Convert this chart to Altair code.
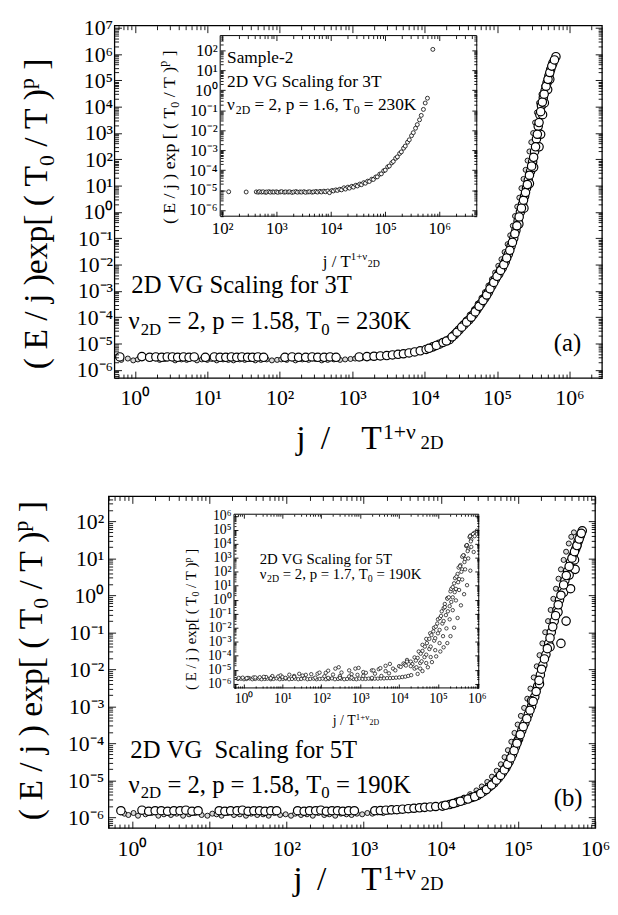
import altair as alt
import pandas as pd

W, H = 610, 897
OFF = 8
FONT = "Liberation Serif"

# ===================== data =====================
# ---- panel (a), main plot: large open circles ----
A_BIG_X = [0.62, 1.25, 1.6, 1.95, 2.35, 2.8, 3.3, 3.9, 4.7, 5.6, 6.6,
           9.4, 12.5, 15, 18, 21.5, 25.5, 30, 36, 42, 50, 60,
           118, 148, 182, 228, 280, 335, 410, 495, 600,
           1250, 1600, 2000, 2450, 3000, 3600, 4300, 5100, 6100, 7300, 8700,
           1.05e4, 1.3e4, 1.6e4, 2.2e4, 2.6e4, 3.0e4, 3.5e4, 4.1e4, 4.7e4, 5.3e4, 6.0e4, 6.8e4, 7.6e4, 8.5e4, 9.5e4,
           1.06e5, 1.18e5, 1.3e5, 1.43e5, 1.56e5, 1.7e5, 1.82e5, 1.95e5, 2.1e5, 2.25e5, 2.4e5, 2.55e5, 2.7e5,
           2.9e5, 3.1e5, 3.3e5, 3.5e5, 3.7e5, 3.9e5, 4.1e5, 4.35e5, 4.6e5, 4.9e5, 5.2e5, 5.5e5, 5.9e5, 6.5e5,
           4.0e5, 4.25e5, 4.5e5, 5.0e5, 5.35e5, 2.0e5, 2.35e5, 2.8e5, 3.2e5, 3.8e5,
           1.15e4, 1.45e4, 1.8e4, 2.0e4, 2.4e4, 2.8e4, 3.25e4, 3.8e4, 4.4e4, 5.0e4,
           5.65e4, 6.4e4, 7.2e4, 8.0e4, 9.0e4, 1.0e5, 1.12e5, 1.24e5, 1.36e5, 1.5e5,
           1.63e5, 1.76e5, 1.88e5, 2.02e5, 2.17e5, 2.32e5, 2.47e5, 2.62e5, 2.8e5, 3.0e5,
           3.2e5, 3.4e5, 3.6e5, 3.8e5, 4.0e5, 4.22e5, 4.47e5, 4.75e5, 5.05e5, 5.35e5, 5.7e5, 6.2e5]
A_BIG_Y = [3.1e-6, 3.2e-6, 3.0e-6, 3.1e-6, 3.0e-6, 3.1e-6, 3.1e-6, 3.0e-6, 3.1e-6, 3.0e-6, 3.1e-6,
           3.0e-6, 3.1e-6, 3.0e-6, 3.0e-6, 3.1e-6, 3.0e-6, 3.1e-6, 3.0e-6, 3.0e-6, 3.1e-6, 3.0e-6,
           3.0e-6, 3.1e-6, 3.0e-6, 3.0e-6, 3.1e-6, 3.0e-6, 3.0e-6, 3.1e-6, 3.0e-6,
           3.1e-6, 3.2e-6, 3.3e-6, 3.4e-6, 3.5e-6, 3.7e-6, 3.9e-6, 4.1e-6, 4.4e-6, 4.8e-6, 5.3e-6,
           6.0e-6, 7.5e-6, 9.5e-6, 1.4e-5, 2.2e-5, 3.3e-5, 5.2e-5, 8e-5, 1.25e-4, 2e-4, 3.3e-4, 5.5e-4, 9e-4, 1.6e-3, 2.8e-3,
           4.5e-3, 7.5e-3, 1.3e-2, 2.5e-2, 5e-2, 0.1, 0.2, 0.45, 1.0, 2.0, 4.0, 8.0, 16,
           35, 80, 200, 600, 1800, 5000, 1.1e4, 2.2e4, 4e4, 8e4, 1.5e5, 2.6e5, 4.5e5, 8e5,
           900, 5000, 1.4e4, 4.5e4, 1.1e5, 0.35, 1.4, 12, 50, 300,
           6.6e-6, 8.5e-6, 1.1e-5, 1.25e-5, 1.8e-5, 2.7e-5, 4.2e-5, 6.5e-5, 1.0e-4, 1.6e-4,
           2.6e-4, 4.3e-4, 7e-4, 1.2e-3, 2.1e-3, 3.6e-3, 6e-3, 1.0e-2, 1.8e-2, 3.5e-2,
           7e-2, 0.15, 0.3, 0.65, 1.4, 2.8, 5.5, 11, 25, 55,
           120, 300, 900, 2500, 6500, 1.5e4, 3e4, 6e4, 1.1e5, 2e5, 3.5e5, 6e5]
# ---- panel (a), main plot: small circles ----
A_SMALL_X = [0.65, 0.8, 0.95, 1.1, 2.2, 2.6, 3.6, 4.4, 5.2, 7.2, 8.4, 10, 11.5, 13.5, 16.5, 19.5, 23, 28, 33,
             39, 46, 55, 66, 78, 92, 105, 125, 165, 205, 250, 310, 380, 460, 560, 680, 800, 950, 1100, 1350,
             1800, 2250, 2700, 3300, 3900, 4600, 5500, 6500, 7700, 9000,
             1.05e4, 1.2e4, 1.45e4, 1.7e4, 2.0e4, 2.4e4, 2.8e4, 3.2e4, 3.7e4, 4.2e4, 4.8e4, 5.4e4, 6.1e4, 6.8e4,
             7.6e4, 8.5e4, 9.4e4, 1.04e5, 1.15e5, 1.27e5, 1.4e5, 1.52e5, 1.65e5, 1.77e5, 1.9e5, 2.03e5, 2.17e5,
             2.32e5, 2.48e5, 2.64e5, 2.8e5, 2.97e5, 3.15e5, 3.35e5, 3.55e5, 3.8e5, 4.1e5, 4.45e5, 4.85e5, 5.3e5, 5.8e5]
A_SMALL_Y = [2.4e-6, 2.7e-6, 2.3e-6, 2.5e-6, 2.4e-6, 2.6e-6, 2.3e-6, 2.5e-6, 2.4e-6, 2.3e-6,
             2.5e-6, 2.4e-6, 2.6e-6, 2.3e-6, 2.5e-6, 2.4e-6, 2.3e-6, 2.5e-6, 2.4e-6, 2.6e-6,
             2.3e-6, 2.4e-6, 2.5e-6, 2.3e-6, 2.4e-6, 2.5e-6, 2.4e-6, 2.3e-6, 2.5e-6, 2.4e-6,
             2.6e-6, 2.3e-6, 2.4e-6, 2.5e-6, 2.4e-6, 2.5e-6, 2.6e-6, 2.7e-6, 2.8e-6, 3.0e-6,
             3.1e-6, 3.3e-6, 3.5e-6, 3.7e-6, 4.0e-6, 4.3e-6, 4.7e-6, 5.1e-6, 5.7e-6,
             6.2e-6, 7.0e-6, 8.5e-6, 1.05e-5, 1.4e-5, 2.1e-5, 3.2e-5, 5e-5, 8e-5, 1.25e-4, 2e-4, 3.3e-4, 5.5e-4, 9e-4,
             1.6e-3, 2.8e-3, 5e-3, 9e-3, 1.6e-2, 3e-2, 6e-2, 0.13, 0.3, 0.7, 1.6, 3.5, 8,
             18, 40, 90, 200, 450, 1000, 2500, 6000, 1.4e4, 3e4, 6e4, 1.2e5, 2.2e5, 4e5]

# ---- panel (b), main plot: large open circles ----
B_BIG_X = [0.72, 1.35, 1.65, 2.0, 2.4, 2.9, 3.5, 4.2, 5.0, 6.0, 7.2,
           13.5, 16, 19, 23, 27, 32, 38, 45, 53, 63, 75,
           140, 170, 200, 240, 280, 330, 390, 460, 540, 640, 760,
           1400, 1650, 1950, 2300, 2700, 3200, 3800, 4500, 5300, 6200, 7300, 8600,
           1.05e4, 1.3e4, 1.6e4, 2.0e4, 2.5e4, 3.0e4, 3.6e4, 4.2e4, 4.9e4, 5.6e4,
           6.3e4, 7.0e4, 7.7e4, 8.5e4, 9.3e4, 1.02e5, 1.12e5, 1.23e5, 1.36e5, 1.5e5,
           1.65e5, 1.8e5, 1.95e5, 2.1e5, 2.3e5, 2.5e5, 2.7e5, 2.95e5, 3.2e5, 3.45e5,
           3.75e5, 4.05e5, 4.4e5, 4.8e5, 5.2e5, 5.6e5, 6.0e5, 6.4e5, 6.8e5,
           3.3e5, 3.9e5, 4.6e5, 5.4e5, 5.8e5, 2.6e5, 1.9e5, 9.8e4, 1.5e5, 4.2e5, 4.8e5, 3.6e5, 5.5e5,
           1.15e4, 1.45e4, 1.8e4, 2.25e4, 2.75e4, 3.3e4, 3.9e4, 4.55e4, 5.25e4, 5.95e4,
           6.65e4, 7.35e4, 8.1e4, 8.9e4, 9.7e4, 1.07e5, 1.17e5, 1.3e5, 1.43e5, 1.57e5,
           1.72e5, 1.87e5, 2.02e5, 2.2e5, 2.4e5, 2.6e5, 2.82e5, 3.07e5, 3.32e5, 3.6e5,
           3.9e5, 4.22e5, 4.6e5, 5.0e5, 5.4e5, 5.8e5, 6.2e5, 6.6e5]
B_BIG_Y = [1.5e-6, 1.55e-6, 1.45e-6, 1.5e-6, 1.5e-6, 1.45e-6, 1.5e-6, 1.5e-6, 1.55e-6, 1.45e-6, 1.5e-6,
           1.5e-6, 1.45e-6, 1.5e-6, 1.5e-6, 1.55e-6, 1.45e-6, 1.5e-6, 1.5e-6, 1.45e-6, 1.5e-6, 1.5e-6,
           1.5e-6, 1.45e-6, 1.5e-6, 1.5e-6, 1.55e-6, 1.45e-6, 1.5e-6, 1.5e-6, 1.45e-6, 1.5e-6, 1.5e-6,
           1.5e-6, 1.52e-6, 1.55e-6, 1.58e-6, 1.6e-6, 1.65e-6, 1.7e-6, 1.75e-6, 1.8e-6, 1.85e-6, 1.9e-6, 1.95e-6,
           2.0e-6, 2.2e-6, 2.5e-6, 2.9e-6, 3.4e-6, 3.9e-6, 5e-6, 6.5e-6, 8.5e-6, 1.15e-5,
           1.6e-5, 2.2e-5, 3.2e-5, 5e-5, 8e-5, 1.3e-4, 2.2e-4, 3.5e-4, 6e-4, 1.0e-3,
           1.8e-3, 3.5e-3, 7e-3, 1.3e-2, 2.5e-2, 5e-2, 0.1, 0.2, 0.4, 0.75,
           1.4, 2.5, 4.5, 8, 12, 18, 28, 40, 55,
           0.35, 1.2, 3.5, 9, 22, 0.04, 4e-3, 1.1e-4, 1.4e-3, 0.2, 1.5, 0.05, 5,
           2.1e-6, 2.35e-6, 2.7e-6, 3.1e-6, 3.6e-6, 4.4e-6, 5.6e-6, 7.4e-6, 1.0e-5, 1.35e-5,
           1.9e-5, 2.7e-5, 4e-5, 6.3e-5, 1.0e-4, 1.7e-4, 2.8e-4, 4.6e-4, 7.8e-4, 1.35e-3,
           2.5e-3, 5e-3, 1e-2, 1.9e-2, 3.6e-2, 7e-2, 0.14, 0.28, 0.55, 1.0,
           1.9, 3.4, 6, 10, 15, 22, 33, 47]
# ---- panel (b), main plot: small circles ----
B_SMALL_X = [0.8, 0.9, 1.05, 1.2, 1.5, 1.8, 2.2, 2.6, 3.2, 3.8,
             4.6, 5.5, 6.6, 8, 9.5, 11, 12.5, 14.5, 17.5, 21,
             25, 30, 35, 42, 50, 59, 70, 83, 98, 115,
             130, 155, 185, 220, 260, 310, 360, 430, 510, 600,
             700, 820, 960, 1120, 1300, 1520, 1800, 2100, 2500, 2950,
             3500, 4100, 4800, 5700, 6700, 7900, 9300,
             1.1e4, 1.35e4, 1.65e4, 2.0e4, 2.4e4, 2.9e4, 3.4e4, 4.0e4, 4.6e4, 5.3e4,
             6.0e4, 6.7e4, 7.4e4, 8.2e4, 9.0e4, 9.9e4, 1.09e5, 1.2e5, 1.32e5, 1.45e5,
             1.6e5, 1.75e5, 1.9e5, 2.07e5, 2.25e5, 2.45e5, 2.65e5, 2.87e5, 3.1e5, 3.35e5,
             3.6e5, 3.9e5, 4.2e5, 4.55e5, 4.9e5, 5.3e5]
B_SMALL_Y = [1.25e-6, 1.15e-6, 1.3e-6, 1.1e-6, 1.2e-6, 1.3e-6, 1.1e-6, 1.2e-6, 1.15e-6, 1.25e-6,
             1.1e-6, 1.2e-6, 1.3e-6, 1.15e-6, 1.1e-6, 1.25e-6, 1.2e-6, 1.1e-6, 1.3e-6, 1.15e-6,
             1.2e-6, 1.1e-6, 1.25e-6, 1.15e-6, 1.2e-6, 1.1e-6, 1.3e-6, 1.15e-6, 1.2e-6, 1.1e-6,
             1.25e-6, 1.15e-6, 1.2e-6, 1.1e-6, 1.3e-6, 1.15e-6, 1.2e-6, 1.1e-6, 1.25e-6, 1.2e-6,
             1.15e-6, 1.25e-6, 1.2e-6, 1.3e-6, 1.25e-6, 1.35e-6, 1.3e-6, 1.4e-6, 1.45e-6, 1.5e-6,
             1.55e-6, 1.6e-6, 1.65e-6, 1.75e-6, 1.85e-6, 1.95e-6, 2.0e-6,
             2.1e-6, 2.5e-6, 2.9e-6, 3.4e-6, 4.2e-6, 5.3e-6, 6.8e-6, 9e-6, 1.25e-5, 1.8e-5,
             2.7e-5, 4.2e-5, 6.5e-5, 1.1e-4, 1.9e-4, 3.2e-4, 5.5e-4, 9e-4, 1.6e-3, 3e-3,
             6e-3, 1.2e-2, 2.4e-2, 5e-2, 0.1, 0.2, 0.4, 0.8, 1.5, 2.8,
             5, 9, 15, 25, 38, 50]

# ---- inset of panel (a) ----
IA_X = [132, 277, 425, 462, 488, 534, 571, 630, 662, 728, 775, 851, 903, 998, 1060, 1175, 1250, 1390, 1480,
        1640, 1750, 1930, 2070, 2290, 2440, 2710, 2900, 3220, 3430, 3810, 4080, 4520, 4820, 5350, 5700, 6330,
        6750, 7480, 8000, 8850, 9500,
        1.05e4, 1.12e4, 1.24e4, 1.33e4, 1.47e4, 1.58e4, 1.75e4, 1.87e4, 2.07e4, 2.21e4, 2.45e4, 2.62e4,
        2.9e4, 3.1e4, 3.43e4, 3.68e4, 4.06e4, 4.35e4, 4.8e4, 5.15e4, 5.7e4, 6.1e4, 6.75e4, 7.2e4, 8.0e4,
        8.55e4, 9.45e4, 1.01e5, 1.12e5, 1.2e5, 1.33e5, 1.42e5, 1.57e5, 1.69e5, 1.86e5, 2.0e5, 2.2e5, 2.36e5,
        2.6e5, 2.8e5, 3.08e5, 3.32e5, 3.65e5, 3.93e5, 4.32e5, 4.65e5, 5.1e5, 5.5e5, 6.05e5, 7.6e5]
IA_Y = [8.2e-6, 8.0e-6, 8.1e-6, 7.8e-6, 8.3e-6, 7.9e-6, 8.2e-6, 7.7e-6, 8.0e-6, 8.3e-6, 7.8e-6, 8.1e-6,
        7.9e-6, 8.2e-6, 7.7e-6, 8.0e-6, 8.3e-6, 7.8e-6, 8.1e-6, 7.9e-6, 8.2e-6, 7.6e-6, 8.0e-6, 8.4e-6,
        7.8e-6, 8.1e-6, 7.9e-6, 8.3e-6, 7.7e-6, 8.0e-6, 8.2e-6, 7.8e-6, 8.1e-6, 8.5e-6, 7.9e-6, 8.6e-6,
        8.0e-6, 8.8e-6, 8.2e-6, 9.0e-6, 7.4e-6,
        9.5e-6, 9.0e-6, 1.02e-5, 9.6e-6, 1.1e-5, 1.02e-5, 1.3e-5, 1.12e-5, 1.4e-5, 1.25e-5, 1.55e-5, 1.4e-5,
        1.75e-5, 1.6e-5, 2.0e-5, 1.85e-5, 2.35e-5, 2.2e-5, 2.8e-5, 2.7e-5, 3.5e-5, 3.4e-5, 4.5e-5, 4.6e-5,
        6.3e-5, 6.5e-5, 9.2e-5, 1.0e-4, 1.45e-4, 1.6e-4, 2.3e-4, 2.7e-4, 3.9e-4, 4.6e-4, 6.8e-4, 8.2e-4,
        1.25e-3, 1.6e-3, 2.5e-3, 3.3e-3, 5.3e-3, 7.5e-3, 1.25e-2, 1.9e-2, 3.3e-2, 5.5e-2, 0.11, 0.23, 0.4, 112]

# ---- inset of panel (b) ----
IB_BASE_X = [0.72, 0.86, 1.02, 1.19, 1.43, 1.68, 2.0, 2.45, 2.9, 3.5, 4.1, 5.0, 5.9, 7.1, 8.5, 10.2, 12.1,
             14.8, 17.6, 21.3, 25.5, 30.4, 36.8, 44, 52, 63, 75, 91, 108, 131, 156, 188, 224, 270, 322, 388,
             462, 556, 664, 800, 955, 1150, 1380, 1650, 1980, 2370, 2850, 3400, 4100, 4900, 5850, 7000, 8400,
             1.01e4, 1.21e4, 1.45e4, 1.72e4, 2.05e4]
IB_BASE_Y = [2.2e-6, 2.3e-6, 2.1e-6, 2.2e-6, 2.4e-6, 2.1e-6, 2.2e-6, 2.3e-6, 2.1e-6, 2.2e-6, 2.3e-6, 2.1e-6,
             2.2e-6, 2.4e-6, 2.1e-6, 2.2e-6, 2.3e-6, 2.1e-6, 2.2e-6, 2.3e-6, 2.1e-6, 2.2e-6, 2.4e-6, 2.1e-6,
             2.2e-6, 2.3e-6, 2.1e-6, 2.2e-6, 2.3e-6, 2.1e-6, 2.2e-6, 2.4e-6, 2.1e-6, 2.2e-6, 2.3e-6, 2.1e-6,
             2.2e-6, 2.3e-6, 2.2e-6, 2.1e-6, 2.3e-6, 2.2e-6, 2.2e-6, 2.3e-6, 2.2e-6, 2.3e-6, 2.3e-6, 2.4e-6,
             2.4e-6, 2.5e-6, 2.5e-6, 2.6e-6, 2.7e-6, 2.8e-6, 3.0e-6, 3.2e-6, 3.6e-6, 4.1e-6]
IB_FAN_X = [0.75, 0.95, 1.3, 1.8, 2.6, 3.8, 5.4, 7.8,
            1.2, 2.0, 3.3, 5.5, 9, 15, 27,
            5, 10, 20, 40, 80, 130,
            12, 20, 33, 55, 90, 150, 230, 280,
            70, 120, 200, 330, 520, 750, 910,
            150, 300, 600, 1200, 2000, 3000,
            300, 520, 850, 1400, 2200, 3300, 4500, 5800,
            600, 1200, 2400, 4500, 7000, 1.0e4, 1.3e4, 1.6e4,
            2000, 3500, 5500, 8000, 1.1e4, 1.4e4, 1.6e4]
IB_FAN_Y = [2.6e-6, 2.7e-6, 2.6e-6, 2.8e-6, 2.9e-6, 3.0e-6, 3.1e-6, 3.3e-6,
            2.5e-6, 2.8e-6, 3.1e-6, 3.5e-6, 3.9e-6, 4.4e-6, 5.1e-6,
            2.5e-6, 3.0e-6, 3.6e-6, 4.3e-6, 5.2e-6, 6.0e-6,
            2.6e-6, 3.1e-6, 3.8e-6, 4.8e-6, 6.2e-6, 8.5e-6, 1.2e-5, 1.5e-5,
            2.7e-6, 3.4e-6, 4.5e-6, 6.3e-6, 9e-6, 1.2e-5, 1.35e-5,
            2.6e-6, 3.5e-6, 4.8e-6, 6.8e-6, 9e-6, 1.1e-5,
            2.6e-6, 3.3e-6, 4.3e-6, 6e-6, 8.8e-6, 1.3e-5, 1.9e-5, 2.6e-5,
            2.7e-6, 3.6e-6, 5.2e-6, 8e-6, 1.2e-5, 1.8e-5, 2.8e-5, 5e-5,
            2.6e-6, 3.6e-6, 5.5e-6, 9e-6, 1.6e-5, 2.4e-5, 3.8e-5]
IB_RISE_X = [1.5e4, 2.0e4, 2.5e4, 3.2e4, 4.0e4, 5.0e4, 6.3e4, 7.9e4, 1.0e5, 1.25e5, 1.5e5, 1.75e5, 2.1e5,
             2.6e5, 3.2e5, 3.8e5, 4.6e5, 5.6e5, 6.9e5,
             2.2e4, 3.0e4, 4.0e4, 5.2e4, 6.8e4, 8.8e4, 1.12e5, 1.4e5, 1.75e5, 2.2e5, 2.75e5, 3.4e5, 4.2e5,
             5.3e5, 6.5e5,
             2.0e4, 2.7e4, 3.6e4, 4.6e4, 6.0e4, 7.6e4, 9.6e4, 1.2e5, 1.5e5, 1.9e5, 2.4e5, 3.0e5, 3.7e5,
             4.5e5, 5.5e5, 6.7e5,
             2.5e4, 3.5e4, 4.5e4, 6e4, 8e4, 1.0e5, 1.3e5, 1.6e5, 2e5, 2.4e5, 2.9e5, 3.5e5, 4.2e5, 5e5, 6e5,
             7.2e5, 8.5e5,
             2.8e4, 3.8e4, 5.0e4, 6.5e4, 8.5e4, 1.1e5, 1.4e5, 1.8e5, 2.2e5, 2.7e5, 3.3e5, 4.0e5, 4.8e5,
             5.8e5, 7.0e5, 8.0e5,
             3.5e4, 5e4, 6.5e4, 8.5e4, 1.1e5, 1.35e5, 1.65e5, 2e5, 2.4e5, 2.9e5, 3.5e5, 4.2e5, 5e5, 6e5,
             7.2e5, 8.8e5,
             3e4, 4e4, 5.5e4, 7e4, 9e4, 1.15e5, 1.4e5, 1.74e5, 2.1e5, 2.6e5, 3.2e5, 3.9e5, 4.7e5, 5.6e5,
             6.8e5, 8.3e5, 1.0e6]
IB_RISE_Y = [2.0e-5, 3.8e-5, 7.6e-5, 2e-4, 6e-4, 1.6e-3, 4e-3, 1e-2, 4e-2, 0.15, 0.5, 1.3, 4,
             15, 70, 300, 1500, 8000, 4e4,
             2.5e-5, 7e-5, 2.2e-4, 8e-4, 3e-3, 1.2e-2, 5e-2, 0.25, 1.2, 6, 35, 200, 1200,
             7000, 3e4,
             1.8e-5, 4.5e-5, 1.4e-4, 4.5e-4, 1.6e-3, 5.5e-3, 2e-2, 7e-2, 0.3, 1.5, 8, 45, 250,
             1500, 8000, 3.5e4,
             1.2e-5, 3e-5, 8e-5, 3e-4, 1.2e-3, 4e-3, 2e-2, 8e-2, 0.35, 1.5, 6, 30, 150, 800, 4000,
             2e4, 6e4,
             1.5e-5, 4e-5, 1.2e-4, 4.5e-4, 1.8e-3, 7e-3, 3e-2, 0.15, 0.7, 3.5, 18, 100, 500,
             3000, 1.5e4, 5e4,
             1.2e-5, 3e-5, 8e-5, 2.5e-4, 8e-4, 2.5e-3, 9e-3, 4e-2, 0.18, 0.9, 5, 28, 150, 900,
             6000, 3.5e4,
             5e-6, 8e-6, 1.5e-5, 3.5e-5, 9e-5, 2e-4, 4e-4, 8e-4, 2.5e-3, 1e-2, 5e-2, 0.4, 2.5, 11,
             120, 2600, 8.7e4]

# ===================== axes: domains and frames (page px) =====================
PLOTS = {
    "a":  dict(xdom=[0.525, 2.82e6], ydom=[4.9e-7, 1.2e7], box=(116, 610, 20, 377),
               tick=(7, 4), fs=22, pad=(10, 2), fill="transparent", sw=1.3),
    "b":  dict(xdom=[0.50, 1.0e6], ydom=[5.1e-7, 467], box=(110, 603, 497, 833),
               tick=(7, 4), fs=22, pad=(11, 5), fill="transparent", sw=1.3),
    "ia": dict(xdom=[92, 4.9e6], ydom=[4.9e-7, 550], box=(223, 483, 30, 213),
               tick=(5, 3), fs=17, pad=(5, 3), fill="white", sw=1.0),
    "ib": dict(xdom=[0.567, 1.12e6], ydom=[5.0e-7, 1.3e6], box=(237, 485, 515, 691),
               tick=(4, 2), fs=14, pad=(4, 3), fill="white", sw=1.0),
}

SUPS = {"-": "\u207b", "0": "\u2070", "1": "\u00b9", "2": "\u00b2", "3": "\u00b3", "4": "\u2074",
        "5": "\u2075", "6": "\u2076", "7": "\u2077", "8": "\u2078", "9": "\u2079"}
_e = "('' + round(log(datum.value) / LN10))"
for _k, _v in SUPS.items():
    _e = "replace(" + _e + ", '" + _k + "', '" + _v + "')"
LABEL_EXPR = "'10' + " + _e


def majors(lo, hi):
    return [10.0 ** e for e in range(-9, 10) if lo <= 10.0 ** e <= hi]


def minors(lo, hi):
    out = []
    for e in range(-9, 10):
        for k in range(2, 10):
            v = k * 10.0 ** e
            if lo <= v <= hi:
                out.append(v)
    return out


def make_axis(orient, vals, tick, pos, labels=False, fs=None, pad=None):
    if orient == "bottom":
        off = (pos - tick) - H
    elif orient == "top":
        off = -(pos + tick)
    elif orient == "left":
        off = -(pos + tick)
    else:
        off = (pos - tick) - W
    kw = dict(orient=orient, values=vals, tickSize=tick, offset=off, domain=False, grid=False,
              ticks=True, tickColor="black", tickWidth=0.9, labels=labels, title=None, zindex=1)
    if labels:
        kw.update(labelExpr=LABEL_EXPR, labelFont=FONT, labelFontSize=fs, labelColor="black",
                  labelPadding=pad, labelOverlap=False, labelFlush=False, labelBound=False)
    return alt.Axis(**kw)


def plot_layers(key, groups):
    P = PLOTS[key]
    l, r, t, b = [v - OFF for v in P["box"]]
    sx = alt.Scale(type="log", domain=P["xdom"], range=[l, r], nice=False)
    sy = alt.Scale(type="log", domain=P["ydom"], range=[b, t], nice=False)
    tmaj, tmin = P["tick"]
    mx, my = majors(*P["xdom"]), majors(*P["ydom"])
    nx, ny = minors(*P["xdom"]), minors(*P["ydom"])
    fr = pd.DataFrame({"x1": [P["xdom"][0]], "x2": [P["xdom"][1]],
                       "y1": [P["ydom"][0]], "y2": [P["ydom"][1]]})
    layers = []
    layers.append(alt.Chart(fr).mark_rect(fill=P["fill"], stroke="black", strokeWidth=P["sw"]).encode(
        x=alt.X("x1:Q", scale=sx, axis=make_axis("top", mx, tmaj, t)), x2=alt.X2("x2"),
        y=alt.Y("y1:Q", scale=sy, axis=make_axis("right", my, tmaj, r)), y2=alt.Y2("y2")))
    layers.append(alt.Chart(fr).mark_rect(opacity=0).encode(
        x=alt.X("x1:Q", scale=sx, axis=make_axis("bottom", nx, tmin, b)), x2=alt.X2("x2"),
        y=alt.Y("y1:Q", scale=sy, axis=make_axis("left", ny, tmin, l)), y2=alt.Y2("y2")))
    layers.append(alt.Chart(fr).mark_rect(opacity=0).encode(
        x=alt.X("x1:Q", scale=sx, axis=make_axis("top", nx, tmin, t)), x2=alt.X2("x2"),
        y=alt.Y("y1:Q", scale=sy, axis=make_axis("right", ny, tmin, r)), y2=alt.Y2("y2")))
    for i, (xs, ys, size, fill, sw) in enumerate(groups):
        last = i == len(groups) - 1
        if last:
            ax = make_axis("bottom", mx, tmaj, b, True, P["fs"], P["pad"][0])
            ay = make_axis("left", my, tmaj, l, True, P["fs"], P["pad"][1])
        else:
            ax = None
            ay = None
        df = pd.DataFrame({"x": xs, "y": ys})
        layers.append(alt.Chart(df).mark_point(shape="circle", filled=True, fill=fill, stroke="black",
                                               strokeWidth=sw, size=size, opacity=1).encode(
            x=alt.X("x:Q", scale=sx, axis=ax), y=alt.Y("y:Q", scale=sy, axis=ay)))
    return layers


# ===================== text (Times metrics, 1/1000 em) =====================
ADV = {" ": 250, "(": 333, ")": 333, "[": 333, "]": 333, "/": 278, "E": 611, "j": 278, "e": 444,
       "x": 500, "p": 500, "T": 611, "=": 564, ",": 250, ".": 250, "K": 722, "D": 722, "V": 722,
       "G": 722, "S": 556, "c": 444, "a": 444, "l": 278, "i": 278, "n": 500, "g": 500, "f": 333,
       "o": 500, "r": 333, "m": 778, "-": 333, "+": 564, "\u03bd": 500, "b": 500}


def tw(s, fs):
    return sum(ADV.get(c, 500) for c in s) * fs / 1000.0


def rich(segs, x0, y0, angle=0):
    rows, adv = [], 0.0
    for seg in segs:
        txt, fs, rise = seg[0], seg[1], seg[2]
        if len(seg) > 3:
            adv = seg[3] - x0
        body = txt.lstrip(" ")
        lead = tw(txt[:len(txt) - len(body)], fs)
        if angle == 0:
            px, py = x0 + adv + lead, y0 - rise
        else:
            px, py = x0 - rise, y0 - adv - lead
        rows.append({"px": px - OFF, "py": py - OFF, "t": body.rstrip(" ").replace(" ", "\u00a0"), "fs": fs})
        adv += tw(txt, fs)
    return rows


NU = "\u03bd"
H_TEXT = []
# panel (a)
H_TEXT += rich([("2D VG Scaling for 3T", 25, 0)], 133, 291)
H_TEXT += rich([(NU, 25, 0), ("2D", 17, -6), (" = 2, p = 1.58, T", 25, 0), ("0", 17, -6), (" = 230K", 25, 0)], 130, 327)
H_TEXT += rich([("(a)", 25, 0)], 561, 350)
H_TEXT += rich([("j", 34, 0, 300), ("/", 34, 0, 325), ("T", 34, 0, 366), ("1+" + NU, 22, 10, 388), ("2D", 19, 0, 426)], 300, 449)
# inset (a)
H_TEXT += rich([("Sample-2", 17.5, 0)], 230, 58)
H_TEXT += rich([("2D VG Scaling for 3T", 17.5, 0)], 230, 82)
H_TEXT += rich([(NU, 17.5, 0), ("2D", 12, -4), (" = 2, p = 1.6, T", 17.5, 0), ("0", 12, -4), (" = 230K", 17.5, 0)], 230, 105)
H_TEXT += rich([("j / T", 17, 0), ("1+" + NU, 11, 7), ("2D", 10, 0)], 327, 264)
# panel (b)
H_TEXT += rich([("2D VG  Scaling for 5T", 25, 0)], 132, 762)
H_TEXT += rich([(NU, 25, 0), ("2D", 17, -6), (" = 2, p = 1.58, T", 25, 0), ("0", 17, -6), (" = 190K", 25, 0)], 130, 797)
H_TEXT += rich([("(b)", 25, 0)], 561, 811)
H_TEXT += rich([("j", 34, 0, 297), ("/", 34, 0, 321), ("T", 34, 0, 366), ("1+" + NU, 22, 10, 388), ("2D", 19, 0, 426)], 297, 896)
# inset (b)
H_TEXT += rich([("2D VG Scaling for 5T", 15, 0)], 263, 565)
H_TEXT += rich([(NU, 15, 0), ("2D", 10, -3), (" = 2, p = 1.7, T", 15, 0), ("0", 10, -3), (" = 190K", 15, 0)], 263, 581)
H_TEXT += rich([("j / T", 14, 0), ("1+" + NU, 9, 6), ("2D", 8, 0)], 337, 729)

V_TEXT = []
V_TEXT += rich([("( E / j )exp[ ( T", 34, 0), ("0", 22, -7), (" / T )", 34, 0), ("p", 22, 14), (" ]", 34, 0)], 48, 368, 270)
V_TEXT += rich([("( E / j ) exp[ ( T", 34, 0), ("0", 22, -7), (" / T )", 34, 0), ("p", 22, 14), (" ]", 34, 0)], 42, 825, 270)
V_TEXT += rich([("( E / j ) exp [ ( T", 18, 0), ("0", 12, -4), (" / T )", 18, 0), ("p", 12, 8), (" ]", 18, 0)], 177, 221, 270)
V_TEXT += rich([("( E / j ) exp[ ( T", 15, 0), ("0", 10, -3), (" / T )", 15, 0), ("p", 10, 6), (" ]", 15, 0)], 199, 693, 270)


def text_layer(rows, **mk):
    return alt.Chart(pd.DataFrame(rows)).mark_text(
        font=FONT, align="left", baseline="alphabetic", color="black", **mk).encode(
        x=alt.X("px:Q", scale=None, axis=None),
        y=alt.Y("py:Q", scale=None, axis=None),
        text="t:N",
        size=alt.Size("fs:Q", scale=None, legend=None))


layers = []
layers += plot_layers("a", [(A_SMALL_X, A_SMALL_Y, 26, "#d9d9d9", 0.9), (A_BIG_X, A_BIG_Y, 72, "white", 1.2)])
layers += plot_layers("ia", [(IA_X, IA_Y, 16, "white", 0.8)])
layers += plot_layers("b", [(B_SMALL_X, B_SMALL_Y, 26, "#d9d9d9", 0.9), (B_BIG_X, B_BIG_Y, 72, "white", 1.2)])
layers += plot_layers("ib", [(IB_BASE_X + IB_FAN_X + IB_RISE_X, IB_BASE_Y + IB_FAN_Y + IB_RISE_Y, 12, "white", 0.7)])
layers.append(text_layer(H_TEXT))
layers.append(text_layer(V_TEXT, angle=270))

chart = alt.LayerChart(layer=layers).resolve_scale(
    x="independent", y="independent").resolve_axis(
    x="independent", y="independent").properties(
    width=W, height=H, padding=0, autosize=alt.AutoSizeParams(type="none")).configure_view(strokeWidth=0)

chart.save("out.html", embed_options={"renderer": "svg", "actions": False})
